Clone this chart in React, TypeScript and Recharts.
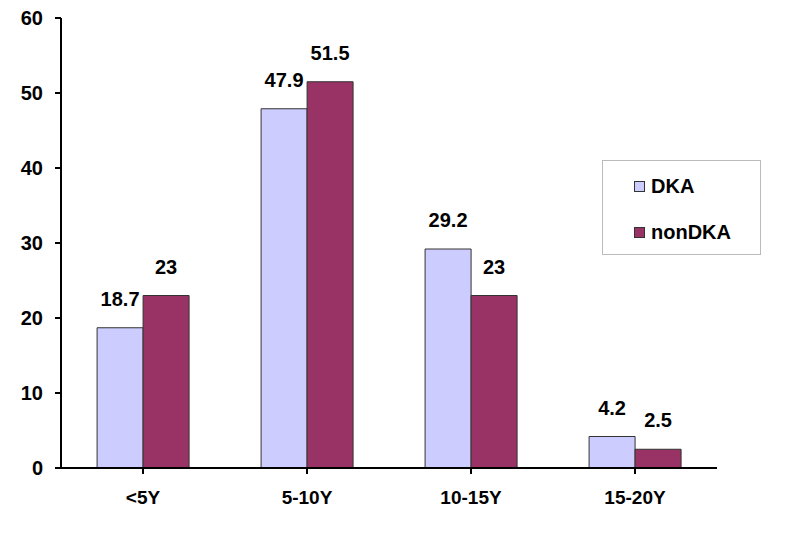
import React from 'react';
import { BarChart, Bar, XAxis, YAxis, LabelList } from 'recharts';

const ageGroups = ['<5Y', '5-10Y', '10-15Y', '15-20Y'];
const dka = [18.7, 47.9, 29.2, 4.2];
const nonDka = [23, 51.5, 23, 2.5];
const yTicks = [0, 10, 20, 30, 40, 50, 60];

const data = ageGroups.map((g, i) => ({ group: g, DKA: dka[i], nonDKA: nonDka[i] }));

const FONT = '"Liberation Sans", Arial, sans-serif';

const LegendBox = () => (
  <div
    style={{
      position: 'absolute',
      left: 602,
      top: 160,
      border: '1px solid #bbb',
      width: 159,
      height: 95,
      boxSizing: 'border-box',
      background: '#fff',
      fontFamily: FONT,
      fontWeight: 'bold',
      fontSize: 20,
      paddingLeft: 31,
      paddingTop: 13,
      lineHeight: '24px',
    }}
  >
    {[
      { name: 'DKA', color: '#CCCCFF' },
      { name: 'nonDKA', color: '#993366' },
    ].map((it, i) => (
      <div key={it.name} style={{ display: 'flex', alignItems: 'center', marginTop: i === 0 ? 0 : 22 }}>
        <span style={{ width: 9, height: 9, background: it.color, border: '1px solid #333', marginRight: 6 }} />
        <span>{it.name}</span>
      </div>
    ))}
  </div>
);

export default function App() {
  return (
    <div style={{ position: 'absolute', left: 0, top: 0, width: 794, height: 549, background: '#fff' }}>
      <BarChart
        width={794}
        height={549}
        data={data}
        margin={{ top: 18, right: 77, left: 11, bottom: 41 }}
        barCategoryGap="22%"
        barGap={0}
      >
        <XAxis
          dataKey="group"
          axisLine={{ stroke: '#000', strokeWidth: 2 }}
          tickLine={{ stroke: '#000', strokeWidth: 2 }}
          tickSize={6}
          tickMargin={17}
          height={40}
          interval={0}
          tick={{ fill: '#000', fontSize: 19, fontWeight: 'bold', fontFamily: FONT }}
        />
        <YAxis
          domain={[0, 60]}
          ticks={yTicks}
          width={50}
          axisLine={{ stroke: '#000', strokeWidth: 2 }}
          tickLine={{ stroke: '#000', strokeWidth: 2 }}
          tickSize={6}
          tickMargin={12}
          tick={{ fill: '#000', fontSize: 20, fontWeight: 'bold', fontFamily: FONT }}
        />
        <Bar dataKey="DKA" fill="#CCCCFF" stroke="#333" strokeWidth={1} isAnimationActive={false}>
          <LabelList dataKey="DKA" position="top" offset={22} fill="#000" fontSize={20} fontWeight="bold" fontFamily={FONT} />
        </Bar>
        <Bar dataKey="nonDKA" fill="#993366" stroke="#333" strokeWidth={1} isAnimationActive={false}>
          <LabelList dataKey="nonDKA" position="top" offset={22} fill="#000" fontSize={20} fontWeight="bold" fontFamily={FONT} />
        </Bar>
      </BarChart>
      <LegendBox />
    </div>
  );
}
